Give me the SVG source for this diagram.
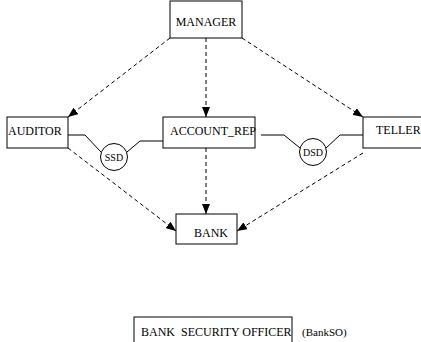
<svg xmlns="http://www.w3.org/2000/svg" width="421" height="342" viewBox="0 0 421 342">
<style>
.box{fill:#fff;stroke:#000;stroke-width:1}
.t{font-family:"Liberation Serif","Times New Roman",serif;font-size:12px;fill:#000}
.s{font-family:"Liberation Serif","Times New Roman",serif;font-size:10px;fill:#000}
.d{fill:none;stroke:#000;stroke-width:1;stroke-dasharray:4,3}
.l{fill:none;stroke:#000;stroke-width:1}
</style>
<defs>
<marker id="ah" markerUnits="userSpaceOnUse" markerWidth="10" markerHeight="8" refX="10" refY="4" orient="auto">
<path d="M0,0 L10,4 L0,8 z" fill="#000" stroke="none"/>
</marker>
</defs>
<rect width="421" height="342" fill="#fff"/>
<g id="connectors">
<line class="d" x1="170" y1="38" x2="68" y2="117" marker-end="url(#ah)"/>
<line class="d" x1="206" y1="38" x2="206" y2="117" marker-end="url(#ah)"/>
<line class="d" x1="242" y1="38" x2="363" y2="117" marker-end="url(#ah)"/>
<line class="d" x1="68" y1="148" x2="176" y2="231" marker-end="url(#ah)"/>
<line class="d" x1="206" y1="148" x2="206" y2="214" marker-end="url(#ah)"/>
<line class="d" x1="363" y1="153" x2="237" y2="231" marker-end="url(#ah)"/>
<polyline class="l" points="68,135 85,135 101,152"/>
<polyline class="l" points="127,152 140,141 163,141"/>
<polyline class="l" points="261,135 284,135 300,148"/>
<polyline class="l" points="326,148 340,135 363,135"/>
</g>
<g id="manager">
<rect class="box" x="170" y="1" width="72" height="37"/>
<text class="t" x="206" y="26" text-anchor="middle">MANAGER</text>
</g>
<g id="auditor">
<rect class="box" x="7" y="117" width="61" height="31"/>
<text class="t" x="8" y="135">AUDITOR</text>
</g>
<g id="account_rep">
<rect class="box" x="163" y="117" width="92" height="31"/>
<text class="t" x="170" y="135">ACCOUNT_REP</text>
</g>
<g id="teller">
<rect class="box" x="363" y="117" width="70" height="31"/>
<text class="t" x="376" y="134">TELLER</text>
</g>
<g id="bank">
<rect class="box" x="176" y="214" width="61" height="30"/>
<text class="t" x="194" y="237">BANK</text>
</g>
<g id="ssd">
<circle class="box" cx="114" cy="157" r="13.5"/>
<text class="s" x="114" y="160.5" text-anchor="middle">SSD</text>
</g>
<g id="dsd">
<circle class="box" cx="313" cy="152" r="13.5"/>
<text class="s" x="313" y="155.5" text-anchor="middle">DSD</text>
</g>
<g id="bank_so">
<rect class="box" x="134" y="317" width="158" height="30"/>
<text class="t" x="141" y="336" xml:space="preserve">BANK  SECURITY OFFICER</text>
<text class="t" x="302" y="336" style="font-size:11px">(BankSO)</text>
</g>
</svg>
